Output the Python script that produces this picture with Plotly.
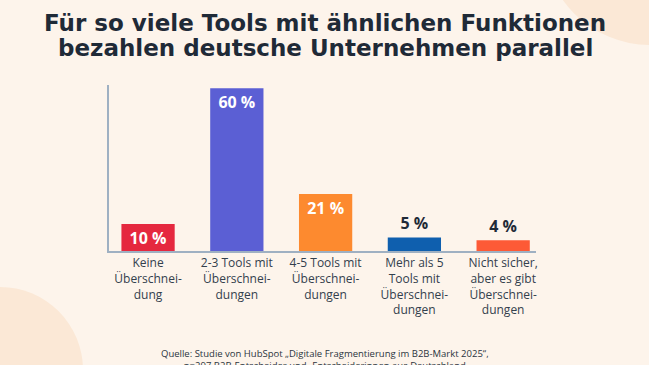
import plotly.graph_objects as go

title_lines = ["Für so viele Tools mit ähnlichen Funktionen",
               "bezahlen deutsche Unternehmen parallel"]
categories = ["Keine<br>Überschnei-<br>dung",
              "2-3 Tools mit<br>Überschnei-<br>dungen",
              "4-5 Tools mit<br>Überschnei-<br>dungen",
              "Mehr als 5<br>Tools mit<br>Überschnei-<br>dungen",
              "Nicht sicher,<br>aber es gibt<br>Überschnei-<br>dungen"]
values = [10, 60, 21, 5, 4]
labels = ["10 %", "60 %", "21 %", "5 %", "4 %"]
colors = ["#e5283f", "#5b5fd4", "#fd8a2f", "#0f5fae", "#fd5a36"]
text_pos = ["inside", "inside", "inside", "outside", "outside"]
source = "Quelle: Studie von HubSpot „Digitale Fragmentierung im B2B-Markt 2025“,<br>n=297 B2B-Entscheider und -Entscheiderinnen aus Deutschland"

W, H = 649, 365
L, R, T, B = 109, 113, 85, 114
BG = "#fdf4eb"
CIRCLE = "#fbe8d6"
DARK = "#1f2a37"
FONT = "Open Sans"

def px_x(p):
    return (p - L) / (W - L - R)

def px_y(p):
    return (H - B - p) / (H - T - B)

fig = go.Figure()
fig.add_trace(go.Bar(
    x=list(range(len(values))), y=values, width=0.6,
    marker=dict(color=colors, line=dict(width=0)),
    text=labels, textposition=text_pos, insidetextanchor="end",
    outsidetextfont=dict(family=FONT, size=16, color=DARK, weight="bold"),
    insidetextfont=dict(family=FONT, size=16, color="white", weight="bold"),
    textangle=0, constraintext="none",
    cliponaxis=False, hoverinfo="skip",
))

shapes = [
    dict(type="circle", xref="paper", yref="paper", layer="below",
         x0=px_x(-83), x1=px_x(83), y0=px_y(287), y1=px_y(453),
         fillcolor=CIRCLE, line=dict(width=0)),
    dict(type="circle", xref="paper", yref="paper", layer="below",
         x0=px_x(543), x1=px_x(757), y0=px_y(-169), y1=px_y(45),
         fillcolor=CIRCLE, line=dict(width=0)),
]

annotations = []
for i, line in enumerate(title_lines):
    annotations.append(dict(text=line, xref="paper", yref="paper",
                            x=px_x(325), y=px_y(23 + 25 * i), xanchor="center", yanchor="middle",
                            showarrow=False,
                            font=dict(family="DejaVu Sans", size=23, color=DARK, weight="bold")))
annotations.append(dict(text=source, xref="paper", yref="paper", x=px_x(325), y=px_y(345),
                        xanchor="center", yanchor="top", showarrow=False,
                        font=dict(family=FONT, size=9.5, color="#2b3440")))

fig.update_layout(
    width=W, height=H,
    margin=dict(l=L, r=R, t=T, b=B, pad=0),
    paper_bgcolor=BG, plot_bgcolor="rgba(0,0,0,0)",
    showlegend=False,
    shapes=shapes,
    xaxis=dict(range=[-0.44, 4.37], tickmode="array", tickvals=list(range(len(values))),
               ticktext=categories, showline=True, linecolor="#9fb0c2", linewidth=2,
               showgrid=False, zeroline=False, ticks="",
               tickfont=dict(family=FONT, size=12, color="#33404d")),
    yaxis=dict(range=[0, 61.2], showline=True, linecolor="#9fb0c2", linewidth=2,
               showgrid=False, zeroline=False, showticklabels=False, ticks=""),
    annotations=annotations,
)

fig.write_html("out.html", config={"displayModeBar": False},
               post_script="document.body.style.margin='0';document.body.style.overflow='hidden';")
